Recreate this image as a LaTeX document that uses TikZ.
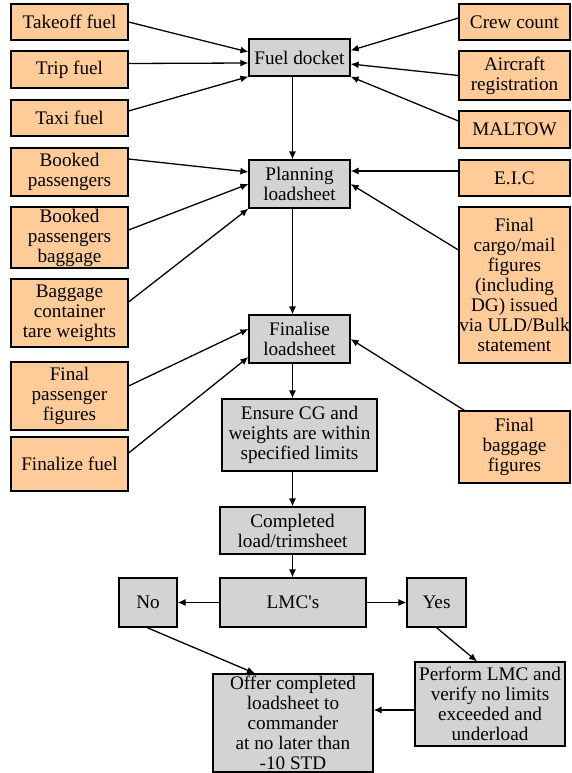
\documentclass[tikz,border=0pt]{standalone}
\usepackage{fontspec}
\setmainfont{Liberation Serif}
\usetikzlibrary{arrows.meta}

\definecolor{peach}{RGB}{255,204,153}
\definecolor{lightgrey}{RGB}{211,211,211}

\tikzset{
  box/.style 2 args={draw, line width=1.2pt, align=center, inner sep=0pt,
    minimum width=#1pt, minimum height=#2pt, font=\fontsize{19.2}{20}\selectfont},
  input/.style 2 args={box={#1}{#2}, fill=peach},
  stage/.style 2 args={box={#1}{#2}, fill=lightgrey},
  feed/.style={-{Latex[length=8pt,width=7pt]}, line width=1.3pt},
}

\begin{document}
\begin{tikzpicture}[x=1pt, y=-1pt]
  \useasboundingbox (0,0) rectangle (571,773);

  % inputs on the left
  \foreach \name/\y/\h/\txt in {
    takeoff/22/36/Takeoff fuel,
    trip/69.5/37/Trip fuel,
    taxi/118/36/Taxi fuel,
    booked/172/48/Booked\\passengers,
    bookedbag/237.5/61/Booked\\passengers\\baggage,
    container/313/68/Baggage\\container\\tare weights,
    finalpax/396/68/Final\\passenger\\figures,
    finalfuel/464/54/Finalize fuel} {
      \node[input={117}{\h}] (\name) at (69.5,\y) {\txt};
    }

  % inputs on the right
  \node[input={111}{36}] (crew) at (514.5,22) {Crew count};
  \node[input={111}{49}] (aircraft) at (514.5,75.5) {Aircraft\\registration};
  \node[input={111}{37}] (maltow) at (514.5,129.5) {MALTOW};
  \node[input={111}{36}] (eic) at (514.5,178) {E.I.C};
  \node[input={111}{156}] (cargo) at (514.5,285) {Final\\cargo/mail\\figures\\(including\\DG) issued\\via ULD/Bulk\\statement};
  \node[input={111}{72}] (finalbag) at (514.5,447) {Final\\baggage\\figures};

  % main steps
  \node[stage={101}{37}] (fuel) at (299.5,57.5) {Fuel docket};
  \node[stage={101}{48}] (plan) at (299.5,184) {Planning\\loadsheet};
  \node[stage={101}{48}] (finalise) at (299.5,339) {Finalise\\loadsheet};
  \node[stage={155}{72}] (ensure) at (299.5,435) {Ensure CG and\\weights are within\\specified limits};
  \node[stage={145}{47}] (completed) at (292.5,530.5) {Completed\\load/trimsheet};
  \node[stage={146}{49}] (lmc) at (293,602.5) {LMC\textquotesingle s};
  \node[stage={58}{49}] (no) at (148,602.5) {No};
  \node[stage={59}{49}] (yes) at (436.5,602.5) {Yes};
  \node[stage={150}{84}] (perform) at (490,704) {Perform LMC and\\verify no limits\\exceeded and\\underload};
  \node[stage={160}{98}] (offer) at (293,723) {Offer completed\\loadsheet to\\commander\\at no later than\\-10 STD};

  % into the fuel docket
  \draw[feed] (takeoff.east) -- ([yshift=5.5pt]fuel.west);
  \draw[feed] ([yshift=6pt]trip.east) -- ([yshift=-5.5pt]fuel.west);
  \draw[feed] ([yshift=7pt]taxi.east) -- (fuel.south west);
  \draw[feed] ([yshift=4pt]crew.west) -- ([yshift=7pt]fuel.east);
  \draw[feed] (aircraft.west) -- ([yshift=-6.5pt]fuel.east);
  \draw[feed] ([yshift=8.5pt]maltow.west) -- (fuel.south east);

  % into the planning loadsheet
  \draw[feed] ([yshift=13pt]booked.east) -- ([yshift=12pt]plan.west);
  \draw[feed] ([yshift=7.5pt]bookedbag.east) -- (plan.west);
  \draw[feed] ([yshift=11pt]container.east) -- (plan.south west);
  \draw[feed] ([yshift=7pt]eic.west) -- ([yshift=13pt]plan.east);
  \draw[feed] ([yshift=35pt]cargo.west) -- (plan.east);

  % into the final loadsheet
  \draw[feed] ([yshift=10pt]finalpax.east) -- ([yshift=10pt]finalise.west);
  \draw[feed] ([yshift=11pt]finalfuel.east) -- ([yshift=-18pt]finalise.west);
  \draw[feed] ([xshift=6pt]finalbag.north west) -- (finalise.east);

  % down the middle
  \draw[feed] (fuel.south -| completed) -- (plan.north -| completed);
  \draw[feed] (plan.south -| completed) -- (finalise.north -| completed);
  \draw[feed] (finalise.south -| completed) -- (ensure.north -| completed);
  \draw[feed] (ensure.south -| completed) -- (completed.north);
  \draw[feed] (completed.south) -- (lmc.north -| completed);

  % decision
  \draw[feed] (lmc.west) -- (no.east);
  \draw[feed] (lmc.east) -- (yes.west);
  \draw[feed] ([xshift=-1pt]no.south) -- ([xshift=-38pt]offer.north);
  \draw[feed] (yes.south) -- ([xshift=-13pt]perform.north);
  \draw[feed] ([yshift=-6pt]perform.west) -- ([yshift=13pt]offer.east);
\end{tikzpicture}
\end{document}
